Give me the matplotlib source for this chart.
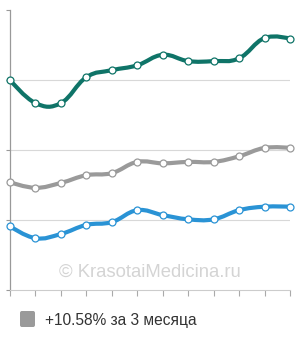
import matplotlib
matplotlib.use("Agg")
import matplotlib.pyplot as plt
import numpy as np
from matplotlib.path import Path
from matplotlib.patches import PathPatch, FancyBboxPatch

# data (arbitrary units, gridlines at 1, 2, 3)
months = list(range(12))
teal = [3.00, 2.67, 2.67, 3.04, 3.14, 3.21, 3.36, 3.27, 3.27, 3.31, 3.60, 3.59]
gray = [1.54, 1.46, 1.53, 1.64, 1.67, 1.83, 1.81, 1.83, 1.83, 1.91, 2.03, 2.03]
blue = [0.91, 0.74, 0.80, 0.93, 0.97, 1.14, 1.07, 1.01, 1.01, 1.14, 1.19, 1.19]
legend_label = "+10.58% за 3 месяца"
watermark = "© KrasotaiMedicina.ru"

plt.rcParams["font.family"] = ["Liberation Sans", "DejaVu Sans"]


def spline_path(xs, ys, smoothing=1.5):
    # highcharts-like spline: bezier control points from neighbours
    verts = [(xs[0], ys[0])]
    codes = [Path.MOVETO]
    n = len(xs)
    left = [None] * n
    right = [None] * n
    for i in range(n):
        if i == 0 or i == n - 1:
            left[i] = right[i] = (xs[i], ys[i])
            continue
        d = smoothing + 1
        lx = (smoothing * xs[i] + xs[i - 1]) / d
        ly = (smoothing * ys[i] + ys[i - 1]) / d
        rx = (smoothing * xs[i] + xs[i + 1]) / d
        ry = (smoothing * ys[i] + ys[i + 1]) / d
        corr = (ry - ly) * (rx - xs[i]) / (rx - lx) + ys[i] - ry
        ly += corr
        ry += corr
        left[i] = (lx, ly)
        right[i] = (rx, ry)
    for i in range(1, n):
        verts += [right[i - 1], left[i], (xs[i], ys[i])]
        codes += [Path.CURVE4] * 3
    return Path(verts, codes)


fig = plt.figure(figsize=(3.0, 3.4), dpi=100)
ax = fig.add_axes([10 / 300, 50 / 340, 280 / 300, 280 / 340])
ax.set_xlim(0, 11)
ax.set_ylim(0, 4)

for y in [1, 2, 3]:
    ax.axhline(y, color="#d8d8d8", lw=0.8, zorder=0)

series = [(teal, "#0f7468"), (gray, "#9a9a9a"), (blue, "#2a93d5")]
for vals, col in series:
    ax.add_patch(PathPatch(spline_path(months, vals), fill=False, edgecolor=col,
                           lw=3.0, capstyle="round", joinstyle="round",
                           zorder=2, clip_on=False))
    ax.plot(months, vals, ls="none", marker="o", ms=5.0, mfc="white",
            mec=col, mew=0.9, zorder=3, clip_on=False)

ax.text(5.5, 0.25, watermark, ha="center", va="center", fontsize=13.3,
        color="#d4d4d4", zorder=1)

for s in ["top", "right"]:
    ax.spines[s].set_visible(False)
ax.spines["left"].set_color("#999999")
ax.spines["left"].set_linewidth(0.9)
ax.spines["bottom"].set_color("#cccccc")
ax.spines["bottom"].set_linewidth(0.8)
ax.set_xticks(months)
ax.set_yticks([0, 1, 2, 3, 4])
ax.tick_params(axis="x", length=4, width=0.8, color="#aaaaaa", labelbottom=False)
ax.tick_params(axis="y", length=3, width=0.8, color="#999999", labelleft=False)

# legend: rounded gray square and label
fig.patches.append(FancyBboxPatch((20 / 300, 1 - 327 / 340), 15 / 300, 16 / 340,
                                  boxstyle="round,pad=0,rounding_size=0.006",
                                  transform=fig.transFigure, facecolor="#9a9a9a",
                                  edgecolor="none"))
fig.text(45 / 300, 1 - 320 / 340, legend_label, ha="left", va="center",
         fontsize=11.2, color="#333333")

fig.savefig("out.png", dpi=100)
